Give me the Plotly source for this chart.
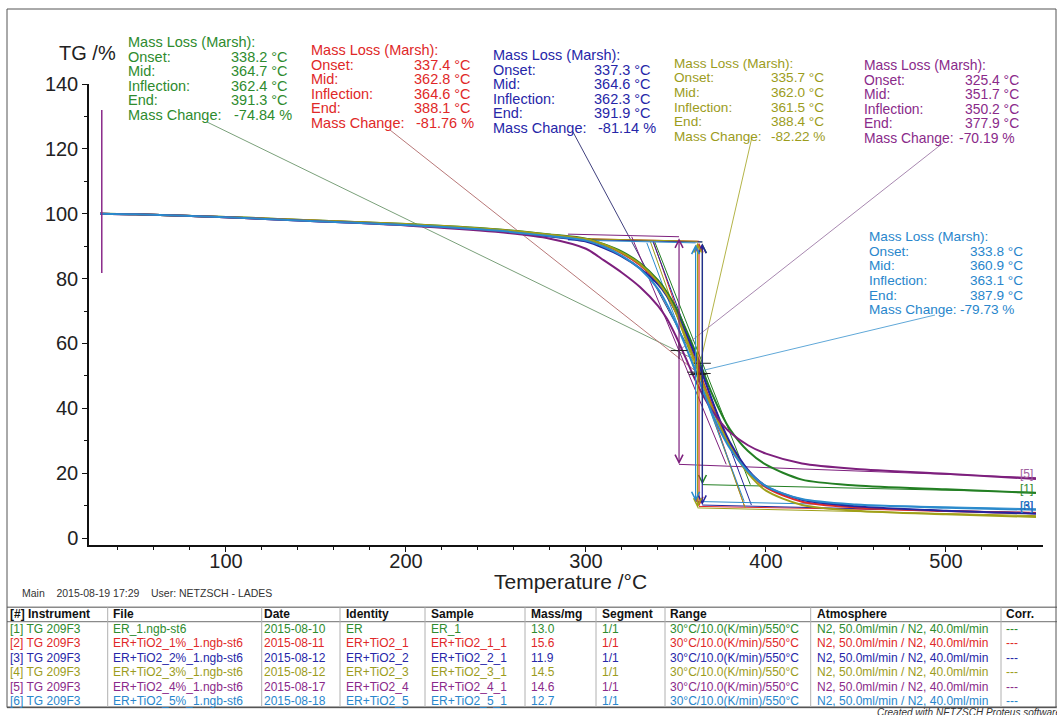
import plotly.graph_objects as go

W, H = 1057, 715
FONT = "Liberation Sans, Arial, sans-serif"

# ---------------- data ----------------
temperature = [30, 50, 100, 150, 200, 250, 280, 300, 310, 320, 330, 340, 345, 350,
               355, 360, 365, 370, 375, 380, 390, 400, 420, 450, 500, 550]
tg_1 = [100.0, 99.8, 99.0, 97.9, 96.8, 95.2, 93.6, 92.3, 90.6, 88.3, 84.8, 79.5, 75.8, 71.0,
        65.0, 58.5, 51.5, 44.5, 38.5, 33.5, 26.8, 22.6, 18.0, 16.2, 15.0, 13.9]
tg_2 = [100.0, 99.8, 98.9, 97.8, 96.7, 95.0, 93.4, 92.1, 90.3, 87.8, 84.2, 78.8, 74.8, 69.5,
        62.8, 55.6, 48.2, 41.0, 34.5, 29.0, 20.8, 15.6, 11.2, 9.4, 8.3, 7.6]
tg_3 = [100.0, 99.8, 98.9, 97.7, 96.5, 94.7, 93.0, 91.4, 89.4, 86.8, 83.2, 78.2, 74.6, 69.8,
        63.8, 57.2, 50.2, 42.5, 35.5, 29.5, 21.0, 16.0, 11.8, 9.8, 8.4, 7.5]
tg_4 = [100.0, 99.8, 99.0, 97.9, 96.8, 95.1, 93.5, 92.2, 90.5, 88.0, 84.5, 79.0, 75.0, 69.5,
        62.5, 55.0, 47.5, 40.2, 33.8, 28.2, 20.0, 14.6, 10.2, 8.4, 7.3, 6.5]
tg_5 = [100.0, 99.8, 98.9, 97.7, 96.4, 94.4, 92.3, 89.2, 85.6, 81.8, 77.4, 71.6, 67.6, 62.2,
        56.0, 49.6, 44.0, 39.4, 35.6, 32.6, 28.6, 26.0, 23.0, 21.3, 19.8, 18.2]
tg_6 = [100.0, 99.8, 98.9, 97.7, 96.5, 94.8, 93.1, 91.7, 89.8, 87.0, 83.0, 76.8, 72.0, 66.2,
        59.6, 52.6, 45.5, 38.6, 32.6, 27.6, 20.6, 16.0, 12.0, 10.3, 9.3, 8.7]
tg_curves = [tg_1, tg_2, tg_3, tg_4, tg_5, tg_6]

series_ids = ["[1]", "[2]", "[3]", "[4]", "[5]", "[6]"]
curve_colors = ["#237f23", "#e02a2a", "#25259e", "#a0a018", "#7d1f7d", "#2a8acc"]
text_colors = ["#2e8b2e", "#e02828", "#2626a8", "#9c9c1c", "#8a2a8a", "#2886cc"]
leader_colors = ["#7aa07a", "#b87878", "#40407e", "#b4b448", "#a888b0", "#60a8d8"]

onset_T = [338.2, 337.4, 337.3, 335.7, 325.4, 333.8]
mid_T = [364.7, 362.8, 364.6, 362.0, 351.7, 360.9]
infl_T = [362.4, 364.6, 362.3, 361.5, 350.2, 363.1]
end_T = [391.3, 388.1, 391.9, 388.4, 377.9, 387.9]
mass_change = [-74.84, -81.76, -81.14, -82.22, -70.19, -79.73]
top_level = [91.3, 91.5, 91.3, 91.5, 92.9, 91.0]
top_start = [92.3, 92.4, 92.1, 92.4, 93.7, 91.9]
baseline_start_T = 290
tail_level = [14.1, 7.9, 7.8, 6.9, 18.6, 9.0]

# end-of-curve labels
end_label_ids = ["[3]", "[6]", "[1]", "[5]"]
end_label_colors = ["#25259e", "#2a8acc", "#2e8b2e", "#a060a0"]
end_label_py = [506, 506, 489, 474]

# table
tbl_headers = ["[#] Instrument", "File", "Date", "Identity", "Sample", "Mass/mg",
               "Segment", "Range", "Atmosphere", "Corr."]
instruments = ["[1] TG 209F3", "[2] TG 209F3", "[3] TG 209F3", "[4] TG 209F3",
               "[5] TG 209F3", "[6] TG 209F3"]
files = ["ER_1.ngb-st6", "ER+TiO2_1%_1.ngb-st6", "ER+TiO2_2%_1.ngb-st6",
         "ER+TiO2_3%_1.ngb-st6", "ER+TiO2_4%_1.ngb-st6", "ER+TiO2_5%_1.ngb-st6"]
dates = ["2015-08-10", "2015-08-11", "2015-08-12", "2015-08-12", "2015-08-17", "2015-08-18"]
identities = ["ER", "ER+TiO2_1", "ER+TiO2_2", "ER+TiO2_3", "ER+TiO2_4", "ER+TiO2_5"]
samples = ["ER_1", "ER+TiO2_1_1", "ER+TiO2_2_1", "ER+TiO2_3_1", "ER+TiO2_4_1", "ER+TiO2_5_1"]
masses = ["13.0", "15.6", "11.9", "14.5", "14.6", "12.7"]
segments = ["1/1"] * 6
ranges = ["30°C/10.0(K/min)/550°C"] * 6
atmospheres = ["N2, 50.0ml/min / N2, 40.0ml/min"] * 6
corrs = ["---"] * 6

# ---------------- layout geometry (pixels) ----------------
XL, XR, X0, X1 = 89, 1043, 23.9, 553.9
YB, YT, Y0, Y1 = 545, 84, -2.16, 140.0


def px(x):
    return x / W


def py(y):
    return 1 - y / H


def x_of_px(p):
    return X0 + (p - XL) / (XR - XL) * (X1 - X0)


def y_of_px(p):
    return Y0 + (YB - p) / (YB - YT) * (Y1 - Y0)


# text blocks: label-left x, value x, mass-change value x, first line y, font size
block_left = [127, 310, 491.7, 672.7, 862.7, 867.7]
block_val = [230, 412.7, 593.3, 770, 964, 969.3]
block_mcval = [233, 415, 596.7, 770, 957.7, 959.3]
block_top = [42, 50, 55, 63.3, 65, 236.7]
block_font = [14.5, 14.5, 14.5, 13.6, 13.9, 13.6]
LINE_H = 14.6
leader_start = [(207, 122), (390, 130), (573, 132), (752, 137), (943, 143), (935, 315)]

fig = go.Figure()
shapes = []
annotations = []

for i in range(6):
    col = curve_colors[i]
    bottom = top_level[i] + mass_change[i]
    mid_level = (top_level[i] + bottom) / 2
    shapes.append(dict(type="line", xref="x", yref="y", layer="below",
                       x0=baseline_start_T, y0=top_start[i], x1=mid_T[i], y1=top_level[i],
                       line=dict(color=col, width=1)))
    shapes.append(dict(type="line", xref="x", yref="y", layer="below",
                       x0=mid_T[i], y0=bottom, x1=550, y1=tail_level[i],
                       line=dict(color=col, width=1)))
    shapes.append(dict(type="line", xref="x", yref="y", layer="below",
                       x0=onset_T[i], y0=top_level[i], x1=end_T[i], y1=bottom,
                       line=dict(color=col, width=1)))
    sx, sy = leader_start[i]
    shapes.append(dict(type="line", xref="x", yref="y", layer="below",
                       x0=x_of_px(sx), y0=y_of_px(sy), x1=mid_T[i], y1=mid_level,
                       line=dict(color=leader_colors[i], width=1)))
    annotations.append(dict(x=mid_T[i], y=bottom, ax=mid_T[i], ay=top_level[i],
                            xref="x", yref="y", axref="x", ayref="y", text="",
                            showarrow=True, arrowhead=5, startarrowhead=5,
                            arrowside="end+start", arrowsize=1.3, startarrowsize=1.3,
                            arrowwidth=1.2, arrowcolor=col, standoff=0, startstandoff=0))

for i in range(6):
    fig.add_trace(go.Scatter(x=temperature, y=tg_curves[i], mode="lines",
                             line=dict(color=curve_colors[i], width=2, shape="spline",
                                       smoothing=0.8),
                             name=series_ids[i], showlegend=False, hoverinfo="skip"))

mid_levels = [top_level[i] + mass_change[i] / 2 for i in range(6)]
fig.add_trace(go.Scatter(x=mid_T, y=mid_levels, mode="markers",
                         marker=dict(symbol="cross-thin", size=12,
                                     line=dict(color="#222222", width=1)),
                         showlegend=False, hoverinfo="skip"))

shapes.append(dict(type="line", xref="x", yref="y", x0=31, y0=81.7, x1=31, y1=132,
                   line=dict(color="#8a2a8a", width=1.5)))

labels = ["Mass Loss (Marsh):", "Onset:", "Mid:", "Inflection:", "End:", "Mass Change:"]
for i in range(6):
    vals = [None, onset_T[i], mid_T[i], infl_T[i], end_T[i]]
    fnt = dict(family=FONT, size=block_font[i], color=text_colors[i])
    for k, lab in enumerate(labels):
        yy = block_top[i] + k * LINE_H
        annotations.append(dict(x=px(block_left[i]), y=py(yy), xref="paper", yref="paper",
                                xanchor="left", yanchor="middle", text=lab, showarrow=False,
                                borderpad=0, font=fnt))
        if 1 <= k <= 4:
            annotations.append(dict(x=px(block_val[i]), y=py(yy), xref="paper", yref="paper",
                                    xanchor="left", yanchor="middle",
                                    text=f"{vals[k]:.1f} °C", showarrow=False, borderpad=0,
                                    font=fnt))
        elif k == 5:
            annotations.append(dict(x=px(block_mcval[i]), y=py(yy), xref="paper", yref="paper",
                                    xanchor="left", yanchor="middle",
                                    text=f"{mass_change[i]:.2f} %", showarrow=False,
                                    borderpad=0, font=fnt))

for lab, c, yy in zip(end_label_ids, end_label_colors, end_label_py):
    annotations.append(dict(x=px(1034), y=py(yy), xref="paper", yref="paper",
                            xanchor="right", yanchor="middle", text=lab, showarrow=False,
                            borderpad=0, font=dict(family=FONT, size=12, color=c)))

annotations.append(dict(x=px(117), y=py(52.5), xref="paper", yref="paper", xanchor="right",
                        yanchor="middle", text="TG /%", showarrow=False, borderpad=0,
                        font=dict(family=FONT, size=20, color="#222")))
annotations.append(dict(x=px(570), y=py(581), xref="paper", yref="paper", xanchor="center",
                        yanchor="middle", text="Temperature /°C", showarrow=False, borderpad=0,
                        font=dict(family=FONT, size=21, color="#222")))

annotations.append(dict(x=px(21), y=py(593), xref="paper", yref="paper", xanchor="left",
                        yanchor="middle",
                        text="Main\u00a0\u00a0\u00a0 2015-08-19 17:29\u00a0\u00a0\u00a0 User: NETZSCH - LADES",
                        showarrow=False, borderpad=0,
                        font=dict(family=FONT, size=10.5, color="#333")))
annotations.append(dict(x=px(876), y=py(712), xref="paper", yref="paper", xanchor="left",
                        yanchor="middle",
                        text="<i>Created with NETZSCH Proteus software</i>",
                        showarrow=False, borderpad=0,
                        font=dict(family=FONT, size=10, color="#333")))

col_x = [9, 112, 263, 345, 430, 530, 601, 669, 816, 1005]
header_y = 614
row_y0, row_h = 629, 14.45
for c, hdr in enumerate(tbl_headers):
    annotations.append(dict(x=px(col_x[c]), y=py(header_y), xref="paper", yref="paper",
                            xanchor="left", yanchor="middle", text=f"<b>{hdr}</b>",
                            showarrow=False, borderpad=0,
                            font=dict(family=FONT, size=12, color="#111")))
columns = [instruments, files, dates, identities, samples, masses, segments, ranges,
           atmospheres, corrs]
for r in range(6):
    for c, colvals in enumerate(columns):
        annotations.append(dict(x=px(col_x[c]), y=py(row_y0 + r * row_h), xref="paper",
                                yref="paper", xanchor="left", yanchor="middle",
                                text=colvals[r], showarrow=False, borderpad=0,
                                font=dict(family=FONT, size=12, color=text_colors[r])))

for yy, wdt in [(607.3, 1.5), (621.7, 1.2), (707.3, 2)]:
    shapes.append(dict(type="line", xref="paper", yref="paper", x0=px(7), x1=px(1057),
                       y0=py(yy), y1=py(yy), line=dict(color="#8a8a8a", width=wdt)))
for xx in [107.7, 261.7, 340, 425, 525, 596, 665, 810.7, 1001]:
    shapes.append(dict(type="line", xref="paper", yref="paper", x0=px(xx), x1=px(xx),
                       y0=py(607.3), y1=py(707.3), line=dict(color="#b0b0b0", width=1)))

shapes.append(dict(type="rect", xref="paper", yref="paper", x0=px(7), x1=px(1056),
                   y0=py(707.5), y1=py(9), line=dict(color="#555", width=1)))

fig.update_layout(
    width=W, height=H, margin=dict(l=0, r=0, t=0, b=0, autoexpand=False),
    paper_bgcolor="white", plot_bgcolor="white",
    showlegend=False,
    xaxis=dict(range=[X0, X1], domain=[px(XL), px(XR)], showline=True, linecolor="#111",
               linewidth=1.5, ticks="outside", ticklen=5, tickwidth=1, tickcolor="#111",
               tick0=0, dtick=100, showgrid=False, zeroline=False, automargin=False,
               ticklabelstandoff=-8,
               tickfont=dict(family=FONT, size=20, color="#222"),
               minor=dict(ticks="outside", dtick=20, tick0=0, ticklen=3, tickcolor="#111",
                          showgrid=False)),
    yaxis=dict(range=[Y0, Y1], domain=[py(YB), py(YT)], showline=True, linecolor="#111",
               linewidth=1.5, ticks="outside", ticklen=5, tickwidth=1, tickcolor="#111",
               tick0=0, dtick=20, showgrid=False, zeroline=False, automargin=False,
               tickfont=dict(family=FONT, size=20, color="#222"),
               minor=dict(ticks="outside", dtick=10, tick0=0, ticklen=3, tickcolor="#111",
                          showgrid=False)),
    shapes=shapes,
    annotations=annotations,
)

fig.write_html("out.html")
